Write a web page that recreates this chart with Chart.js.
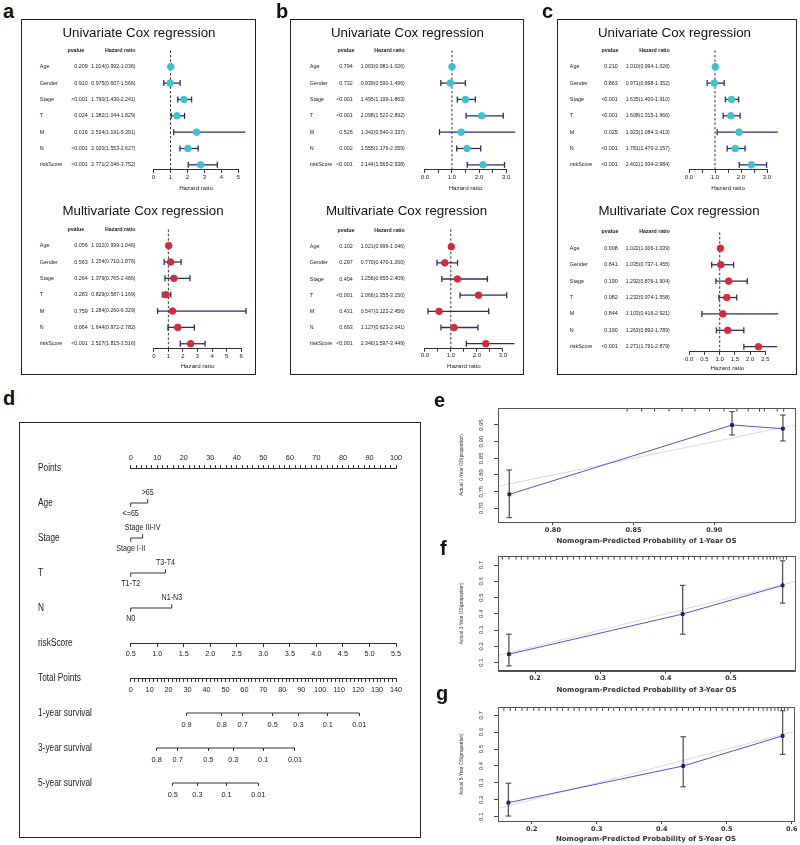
<!DOCTYPE html>
<html>
<head>
<meta charset="utf-8">
<script src="https://cdn.jsdelivr.net/npm/chart.js@4.4.1/dist/chart.umd.min.js"></script>
<style>
  body { margin: 0; width: 800px; height: 845px; position: relative; background: #fff; overflow: hidden; }
  canvas, .box, .tag { position: absolute; }
  .box { border: 1.5px solid #222; box-sizing: border-box; }
  .tag { font: bold 20px 'Liberation Sans', Arial, sans-serif; line-height: 20px; color: #111; z-index: 5; }
</style>
</head>
<body>
<div class="box" style="left:21px;top:19px;width:235px;height:356px"></div>
<div class="box" style="left:290px;top:19px;width:234px;height:356px"></div>
<div class="box" style="left:557px;top:19px;width:240px;height:356px"></div>
<div class="box" style="left:19px;top:422px;width:402px;height:416px"></div>
<div class="tag" style="left:3px;top:1px">a</div>
<div class="tag" style="left:276px;top:1px">b</div>
<div class="tag" style="left:542px;top:1px">c</div>
<div class="tag" style="left:3px;top:388px">d</div>
<div class="tag" style="left:434px;top:390px">e</div>
<div class="tag" style="left:440px;top:538px">f</div>
<div class="tag" style="left:436px;top:683px">g</div>
<script>
// ---- Cox regression tables ----
const coxVars = ['Age', 'Gender', 'Stage', 'T', 'M', 'N', 'riskScore'];

const aUniP  = ['0.209', '0.910', '<0.001', '0.024', '0.016', '<0.001', '<0.001'];
const aUniHR = [1.014, 0.975, 1.790, 1.382, 2.534, 2.020, 2.771];
const aUniLo = [0.992, 0.607, 1.430, 1.044, 1.191, 1.553, 2.046];
const aUniHi = [1.036, 1.566, 2.241, 1.829, 5.391, 2.627, 3.752];
const aMulP  = ['0.056', '0.563', '0.264', '0.283', '0.759', '0.064', '<0.001'];
const aMulHR = [1.022, 1.154, 1.379, 0.829, 1.284, 1.644, 2.527];
const aMulLo = [0.999, 0.710, 0.765, 0.587, 0.260, 0.972, 1.815];
const aMulHi = [1.046, 1.876, 2.486, 1.169, 6.329, 2.782, 3.516];

const bUniP  = ['0.794', '0.732', '<0.001', '<0.001', '0.526', '0.002', '<0.001'];
const bUniHR = [1.003, 0.939, 1.495, 2.098, 1.342, 1.555, 2.144];
const bUniLo = [0.981, 0.590, 1.199, 1.522, 0.540, 1.176, 1.565];
const bUniHi = [1.026, 1.496, 1.863, 2.892, 3.337, 2.059, 2.938];
const bMulP  = ['0.102', '0.297', '0.404', '<0.001', '0.431', '0.693', '<0.001'];
const bMulHR = [1.021, 0.770, 1.256, 2.066, 0.547, 1.127, 2.346];
const bMulLo = [0.996, 0.470, 0.655, 1.355, 0.122, 0.623, 1.597];
const bMulHi = [1.046, 1.260, 2.409, 3.150, 2.456, 2.041, 3.449];

const cUniP  = ['0.210', '0.863', '<0.001', '<0.001', '0.025', '<0.001', '<0.001'];
const cUniHR = [1.010, 0.971, 1.635, 1.608, 1.923, 1.781, 2.402];
const cUniLo = [0.994, 0.698, 1.400, 1.315, 1.084, 1.470, 1.934];
const cUniHi = [1.026, 1.352, 1.910, 1.966, 3.413, 2.157, 2.984];
const cMulP  = ['0.008', '0.841', '0.190', '0.082', '0.844', '0.190', '<0.001'];
const cMulHR = [1.022, 1.035, 1.292, 1.232, 1.103, 1.263, 2.271];
const cMulLo = [1.006, 0.737, 0.876, 0.974, 0.416, 0.892, 1.791];
const cMulHi = [1.039, 1.455, 1.904, 1.558, 2.921, 1.789, 2.879];

// ---- nomogram ----
const nomoRows = ['Points', 'Age', 'Stage', 'T', 'N', 'riskScore', 'Total Points', '1-year survival', '3-year survival', '5-year survival'];
const catLevels = [['<=65', '>65'], ['Stage I-II', 'Stage III-IV'], ['T1-T2', 'T3-T4'], ['N0', 'N1-N3']];
const catPoints = [[0, 6.4], [0, 4.5], [0, 13.1], [0, 15.5]];
const surv1Lab = ['0.9', '0.8', '0.7', '0.5', '0.3', '0.1', '0.01'];
const surv1Pts = [29.5, 48.0, 59.1, 74.9, 88.5, 104.0, 120.6];
const surv3Lab = ['0.8', '0.7', '0.5', '0.3', '0.1', '0.01'];
const surv3Pts = [13.7, 24.8, 40.9, 54.1, 69.9, 86.7];
const surv5Lab = ['0.5', '0.3', '0.1', '0.01'];
const surv5Pts = [22.2, 35.2, 50.6, 67.3];

// ---- calibration curves ----
const calEx = [0.773, 0.911, 0.9425];
const calEy = [0.742, 0.950, 0.939];
const calElo = [0.672, 0.920, 0.902];
const calEhi = [0.815, 0.990, 0.980];
const calEideal = [0.766, 0.95];
const calErug = [0.846, 0.855, 0.863, 0.872, 0.880, 0.888, 0.897, 0.906, 0.914, 0.921, 0.928, 0.931, 0.939, 0.943];
const calExTicks = [0.80, 0.85, 0.90];
const calEyTicks = [0.70, 0.75, 0.80, 0.85, 0.90, 0.95];

const calFx = [0.160, 0.426, 0.579];
const calFy = [0.152, 0.399, 0.575];
const calFlo = [0.080, 0.275, 0.466];
const calFhi = [0.275, 0.575, 0.726];
const calFideal = [0.145, 0.598];
const calFrug = [0.150, 0.160, 0.171, 0.179, 0.189, 0.198, 0.206, 0.216, 0.224, 0.233, 0.242, 0.250, 0.259, 0.268, 0.277, 0.285, 0.295, 0.303, 0.312, 0.321, 0.330, 0.338, 0.348, 0.356, 0.365, 0.374, 0.383, 0.392, 0.400, 0.409, 0.418, 0.427, 0.435, 0.444, 0.453, 0.462, 0.471, 0.479, 0.488, 0.496, 0.504, 0.512, 0.519, 0.527, 0.535, 0.542, 0.549, 0.555, 0.560, 0.565, 0.570, 0.575, 0.580, 0.585];
const calFxTicks = [0.2, 0.3, 0.4, 0.5];
const calFyTicks = [0.1, 0.2, 0.3, 0.4, 0.5, 0.6, 0.7];

const calGx = [0.164, 0.433, 0.586];
const calGy = [0.183, 0.400, 0.578];
const calGlo = [0.104, 0.277, 0.469];
const calGhi = [0.298, 0.573, 0.727];
const calGideal = [0.150, 0.603];
const calGrug = [0.157, 0.167, 0.175, 0.185, 0.193, 0.203, 0.211, 0.221, 0.229, 0.239, 0.247, 0.256, 0.265, 0.273, 0.283, 0.291, 0.300, 0.309, 0.318, 0.326, 0.335, 0.344, 0.353, 0.361, 0.371, 0.379, 0.388, 0.397, 0.405, 0.414, 0.423, 0.432, 0.441, 0.449, 0.458, 0.467, 0.475, 0.484, 0.493, 0.501, 0.510, 0.518, 0.526, 0.534, 0.541, 0.549, 0.556, 0.562, 0.568, 0.574, 0.579, 0.584, 0.589, 0.594];
const calGxTicks = [0.2, 0.3, 0.4, 0.5, 0.6];
const calGyTicks = [0.1, 0.2, 0.3, 0.4, 0.5, 0.6, 0.7];

const sans = "'Liberation Sans', Arial, sans-serif";
const wide = "'DejaVu Sans', Verdana, sans-serif";
const navy = '#2b2d6e';

Chart.defaults.font.family = sans;
Chart.defaults.color = '#222';
Chart.defaults.animation = false;
Chart.defaults.events = [];
Chart.defaults.plugins.legend.display = false;
Chart.defaults.plugins.tooltip.enabled = false;

function addCanvas(l, t, w, h) {
  const c = document.createElement('canvas');
  c.width = w; c.height = h;
  c.style.left = l + 'px'; c.style.top = t + 'px';
  c.style.width = w + 'px'; c.style.height = h + 'px';
  document.body.appendChild(c);
  return c;
}

// text squeezed sideways, like the condensed R font
function squeezed(ctx, text, x, y, align, sx) {
  ctx.save();
  ctx.translate(x, y);
  ctx.scale(sx, 1);
  ctx.textAlign = align;
  ctx.fillText(text, 0, 0);
  ctx.restore();
}

// one forest plot (table text + hazard ratios)
function forest(f) {
  const [cl, ct, cw, ch] = f.canvas;
  const rows = coxVars.map((v, i) => coxVars.length - i);
  const yMin = 0.69, yMax = 8.1, hdrRow = 8, axisH = 24;
  const ds = [];
  ds.push({ data: rows.map((r, i) => ({x: f.hr[i], y: r})), pointRadius: 3.3,
            pointBackgroundColor: f.color, pointBorderColor: f.color, clip: false });
  const caps = [];
  rows.forEach((r, i) => { caps.push({x: f.lo[i], y: r}, {x: f.hi[i], y: r}); });
  ds.push({ data: caps, pointStyle: 'line', pointRotation: 90, pointRadius: 3,
            pointBorderColor: navy, pointBorderWidth: 1.3, clip: false });
  rows.forEach((r, i) => {
    ds.push({ data: [{x: f.lo[i], y: r}, {x: f.hi[i], y: r}], showLine: true, borderColor: navy,
              borderWidth: 1.3, pointRadius: 0, clip: false });
  });
  ds.push({ data: [{x: 1, y: yMin}, {x: 1, y: yMax}], showLine: true, borderColor: '#333',
            borderWidth: 1, borderDash: [2.5, 2], pointRadius: 0, clip: false });

  const table = {
    id: 'table',
    afterDraw(chart) {
      const ctx = chart.ctx, ys = chart.scales.y;
      const [lx, pr, hr, ph] = f.cols.map(v => v - cl);
      ctx.save();
      ctx.fillStyle = '#111';
      ctx.textBaseline = 'middle';
      ctx.textAlign = 'center';
      ctx.font = '13.3px ' + sans;
      ctx.fillText(f.title, cw / 2, f.titleY - ct);
      ctx.fillStyle = '#222';
      ctx.font = 'bold 5.3px ' + sans;
      ctx.fillText('pvalue', ph, ys.getPixelForValue(hdrRow));
      ctx.textAlign = 'right';
      ctx.fillText('Hazard ratio', hr, ys.getPixelForValue(hdrRow));
      ctx.font = '5.4px ' + sans;
      rows.forEach((r, i) => {
        const py = ys.getPixelForValue(r);
        ctx.textAlign = 'left';
        ctx.fillText(coxVars[i], lx, py);
        ctx.textAlign = 'right';
        ctx.fillText(f.p[i], pr, py);
      });
      ctx.font = '5.2px ' + sans;
      rows.forEach((r, i) => {
        const py = ys.getPixelForValue(r);
        ctx.fillText(f.hr[i].toFixed(3) + '(' + f.lo[i].toFixed(3) + '-' + f.hi[i].toFixed(3) + ')', hr, py);
      });
      ctx.restore();
    }
  };

  new Chart(addCanvas(cl, ct, cw, ch), {
    type: 'scatter',
    data: { datasets: ds },
    options: {
      responsive: false,
      layout: { padding: { left: f.x0 - cl, right: cl + cw - f.x1, top: f.top - ct, bottom: ch - (f.bottom - ct) - axisH } },
      scales: {
        x: {
          type: 'linear', min: 0, max: f.max,
          afterFit: s => { s.height = axisH; },
          ticks: { stepSize: f.step, autoSkip: false, maxRotation: 0, minRotation: 0, padding: 0.5,
                   font: { size: 6 }, color: '#222',
                   callback: v => Math.abs(v / f.lab - Math.round(v / f.lab)) < 1e-6 ? v.toFixed(f.dec) : '' },
          grid: { drawOnChartArea: false, tickLength: 3, color: '#333' },
          border: { color: '#333' },
          title: { display: true, text: 'Hazard ratio', color: '#222', font: { size: 6.2 },
                   padding: { top: 0, bottom: axisH - 3.72 - (f.hrY - f.bottom) } }
        },
        y: { type: 'linear', display: false, min: yMin, max: yMax }
      }
    },
    plugins: [table]
  });
}

const cyan = '#38c4cf', red = '#d42a3c';
const colsA = [39.3, 87.3, 135, 75.3], colsB = [309.3, 352.3, 404.3, 345.5], colsC = [569.3, 617.3, 669.3, 609.5];

forest({ canvas: [22.5, 20.5, 232, 175], x0: 153, x1: 238, top: 48.3, bottom: 169.4, titleY: 33.3, hrY: 187.7,
         max: 5, step: 1, lab: 1, dec: 0, cols: colsA, title: 'Univariate Cox regression', color: cyan,
         p: aUniP, hr: aUniHR, lo: aUniLo, hi: aUniHi });
forest({ canvas: [22.5, 194, 240, 182], x0: 153.3, x1: 240.7, top: 227.7, bottom: 348.8, titleY: 211.7, hrY: 366.7,
         max: 6, step: 1, lab: 1, dec: 0, cols: colsA, title: 'Multivariate Cox regression', color: red,
         p: aMulP, hr: aMulHR, lo: aMulLo, hi: aMulHi });
forest({ canvas: [291.5, 20.5, 231, 175], x0: 424.3, x1: 505.7, top: 48.3, bottom: 169.4, titleY: 33.3, hrY: 187.7,
         max: 3, step: 0.5, lab: 1, dec: 1, cols: colsB, title: 'Univariate Cox regression', color: cyan,
         p: bUniP, hr: bUniHR, lo: bUniLo, hi: bUniHi });
forest({ canvas: [291.5, 194, 229, 182], x0: 424.3, x1: 502.3, top: 228.9, bottom: 348.7, titleY: 211, hrY: 366.7,
         max: 3, step: 0.5, lab: 1, dec: 1, cols: colsB, title: 'Multivariate Cox regression', color: red,
         p: bMulP, hr: bMulHR, lo: bMulLo, hi: bMulHi });
forest({ canvas: [557.5, 20.5, 233, 175], x0: 688.5, x1: 766.5, top: 48.3, bottom: 169.4, titleY: 33.3, hrY: 187.7,
         max: 3, step: 0.5, lab: 1, dec: 1, cols: colsC, title: 'Univariate Cox regression', color: cyan,
         p: cUniP, hr: cUniHR, lo: cUniLo, hi: cUniHi });
forest({ canvas: [557.5, 194, 242, 182], x0: 688.7, x1: 765, top: 230.3, bottom: 351.8, titleY: 211, hrY: 368.3,
         max: 2.5, step: 0.5, lab: 0.5, dec: 1, cols: colsC, title: 'Multivariate Cox regression', color: red,
         p: cMulP, hr: cMulHR, lo: cMulLo, hi: cMulHi });

// ---- nomogram (d) ----
(function () {
  const cl = 21, ct = 424, cw = 398, ch = 412;
  const x0 = 130.7, x1 = 396, top = 468, rowGap = 35, yMax = 9.5;
  const bottom = top + rowGap * yMax;
  const ds = [];
  catPoints.forEach((p, k) => {
    const r = k + 1;
    ds.push({ data: [{x: p[0], y: r + 0.11}, {x: p[0], y: r}, {x: p[1], y: r}, {x: p[1], y: r - 0.11}],
              showLine: true, borderColor: '#333', borderWidth: 1, pointRadius: 0, clip: false, xAxisID: 'x' });
  });
  [[surv1Pts, 'xS1', 7], [surv3Pts, 'xS3', 8], [surv5Pts, 'xS5', 9]].forEach(([pts, id, r]) => {
    ds.push({ data: [{x: pts[0], y: r}, {x: pts[pts.length - 1], y: r}], showLine: true, borderColor: '#333',
              borderWidth: 1, pointRadius: 0, clip: false, xAxisID: id });
  });

  const tickFont = { family: sans, size: 7.3 };
  const grid = { drawOnChartArea: false, tickLength: 3, color: '#333' };
  const tens = v => (Math.abs(v % 10) < 1e-6 ? String(v) : '');
  const survAxis = (r, pts, lab) => ({
    type: 'linear', axis: 'x', position: { y: r }, min: 0, max: 140,
    afterBuildTicks: s => { s.ticks = pts.map(v => ({ value: v })); },
    ticks: { autoSkip: false, maxRotation: 0, minRotation: 0, padding: 4.5, font: tickFont, color: '#222',
             callback: (v, i) => lab[i] },
    grid: grid, border: { display: false }
  });

  const labels = {
    id: 'nomoLabels',
    afterDraw(chart) {
      const ctx = chart.ctx, ys = chart.scales.y, xs = chart.scales.x;
      ctx.save();
      ctx.fillStyle = '#222';
      ctx.textBaseline = 'middle';
      ctx.font = '10px ' + sans;
      nomoRows.forEach((r, i) => squeezed(ctx, r, 38 - cl, ys.getPixelForValue(i), 'left', 0.83));
      ctx.font = '8.6px ' + sans;
      catLevels.forEach((lv, k) => {
        const py = ys.getPixelForValue(k + 1);
        squeezed(ctx, lv[0], xs.getPixelForValue(catPoints[k][0]), py + 11, 'center', 0.83);
        squeezed(ctx, lv[1], xs.getPixelForValue(catPoints[k][1]), py - 10.5, 'center', 0.83);
      });
      ctx.restore();
    }
  };

  new Chart(addCanvas(cl, ct, cw, ch), {
    type: 'scatter',
    data: { datasets: ds },
    options: {
      responsive: false,
      layout: { padding: { left: x0 - cl, right: cl + cw - x1, top: top - ct - 16, bottom: ct + ch - bottom } },
      scales: {
        x: { type: 'linear', position: 'top', min: 0, max: 100, afterFit: s => { s.height = 16; },
             ticks: { stepSize: 2, maxTicksLimit: 200, autoSkip: false, maxRotation: 0, minRotation: 0, padding: 2.5,
                      font: tickFont, color: '#222', callback: tens },
             grid: grid, border: { color: '#333' } },
        xRisk: { type: 'linear', axis: 'x', position: { y: 5 }, min: 0.5, max: 5.5,
                 ticks: { stepSize: 0.5, autoSkip: false, maxRotation: 0, minRotation: 0, padding: 4,
                          font: tickFont, color: '#222' },
                 grid: grid, border: { color: '#333' } },
        xTot: { type: 'linear', axis: 'x', position: { y: 6 }, min: 0, max: 140,
                ticks: { stepSize: 2, maxTicksLimit: 200, autoSkip: false, maxRotation: 0, minRotation: 0, padding: 4.5,
                         font: tickFont, color: '#222', callback: tens },
                grid: grid, border: { color: '#333' } },
        xS1: survAxis(7, surv1Pts, surv1Lab),
        xS3: survAxis(8, surv3Pts, surv3Lab),
        xS5: survAxis(9, surv5Pts, surv5Lab),
        y: { type: 'linear', display: false, min: 0, max: yMax, reverse: true }
      }
    },
    plugins: [labels]
  });
})();

// ---- calibration plots (e, f, g) ----
function calib(c) {
  const [cl, ct, cw, ch] = c.canvas;
  const yW = 40, xH = 24;
  const ds = [];
  ds.push({ data: c.px.map((v, i) => ({x: v, y: c.py[i]})), showLine: true, borderColor: '#5252d8', borderWidth: 1,
            pointStyle: 'rect', pointRadius: 2, pointBackgroundColor: '#1d1d78', pointBorderColor: '#1d1d78', clip: false });
  const caps = [];
  c.px.forEach((v, i) => caps.push({x: v, y: c.lo[i]}, {x: v, y: c.hi[i]}));
  ds.push({ data: caps, pointStyle: 'line', pointRadius: 2.8, pointBorderColor: '#555', pointBorderWidth: 1.2, clip: false });
  c.px.forEach((v, i) => {
    ds.push({ data: [{x: v, y: c.lo[i]}, {x: v, y: c.hi[i]}], showLine: true, borderColor: '#555',
              borderWidth: 1.3, pointRadius: 0, clip: false });
  });
  ds.push({ data: c.ideal.map(v => ({x: v, y: v})), showLine: true, borderColor: '#d9d9ea', borderWidth: 1, pointRadius: 0 });
  const rugY = c.y[1] - (c.y[1] - c.y[0]) * 0.016;
  ds.push({ data: c.rug.map(v => ({x: v, y: rugY})), pointStyle: 'line', pointRotation: 90, pointRadius: 1.8,
            pointBorderColor: '#333', pointBorderWidth: 0.9, clip: false });

  const extras = {
    id: 'calExtras',
    afterDraw(chart) {
      const ctx = chart.ctx, a = chart.chartArea, ys = chart.scales.y;
      ctx.save();
      ctx.strokeStyle = '#555';
      ctx.lineWidth = 1;
      ctx.strokeRect(Math.round(a.left) + 0.5, Math.round(a.top) + 0.5, Math.round(a.width), Math.round(a.height));
      ctx.fillStyle = '#333';
      ctx.font = '6px ' + sans;
      ctx.textAlign = 'center';
      ctx.textBaseline = 'middle';
      ys.ticks.forEach(t => {
        ctx.save();
        ctx.translate(a.left - 16.3, ys.getPixelForValue(t.value));
        ctx.rotate(-Math.PI / 2);
        ctx.fillText(t.value.toFixed(c.dec), 0, 0);
        ctx.restore();
      });
      ctx.restore();
    }
  };

  new Chart(addCanvas(cl, ct, cw, ch), {
    type: 'scatter',
    data: { datasets: ds },
    options: {
      responsive: false,
      layout: { padding: { left: c.x0 - cl - yW, right: cl + cw - c.x1, top: c.top - ct, bottom: ct + ch - c.bottom - xH } },
      scales: {
        x: { type: 'linear', min: c.x[0], max: c.x[1],
             afterBuildTicks: s => { s.ticks = c.xTicks.map(v => ({ value: v })); },
             afterFit: s => { s.height = xH; },
             ticks: { autoSkip: false, maxRotation: 0, minRotation: 0, padding: 1.1, color: '#333',
                      font: { family: wide, size: 6.5, weight: 'bold' }, callback: v => v.toFixed(c.dec) },
             grid: { drawOnChartArea: false, tickLength: 3, color: '#444' },
             border: { color: '#444' },
             title: { display: true, text: c.xTitle, color: '#333', font: { family: wide, size: 7, weight: 'bold' },
                      padding: { top: 0, bottom: Math.max(0, xH - 4.2 - (c.xTitleY - c.bottom)) } } },
        y: { type: 'linear', min: c.y[0], max: c.y[1],
             afterBuildTicks: s => { s.ticks = c.yTicks.map(v => ({ value: v })); },
             afterFit: s => { s.width = yW; },
             ticks: { display: false },
             grid: { drawOnChartArea: false, tickLength: 4, color: '#444' },
             border: { color: '#444' },
             title: { display: true, text: c.yTitle, color: '#333', font: { family: sans, size: 4.8 },
                      padding: { top: 1, bottom: 0 } } }
      }
    },
    plugins: [extras]
  });
}

calib({ canvas: [440, 400, 365, 148], x0: 498, x1: 795, top: 408, bottom: 522, xTitleY: 540.7,
        x: [0.766, 0.95], y: [0.659, 1.001], xTicks: calExTicks, yTicks: calEyTicks, dec: 2,
        px: calEx, py: calEy, lo: calElo, hi: calEhi, ideal: calEideal, rug: calErug,
        xTitle: 'Nomogram-Predicted Probability of 1-Year OS', yTitle: 'Actual 1-Year OS(proportion)' });
calib({ canvas: [440, 548, 365, 148], x0: 498, x1: 795, top: 556, bottom: 670.7, xTitleY: 690.7,
        x: [0.1433, 0.598], y: [0.0506, 0.7556], xTicks: calFxTicks, yTicks: calFyTicks, dec: 1,
        px: calFx, py: calFy, lo: calFlo, hi: calFhi, ideal: calFideal, rug: calFrug,
        xTitle: 'Nomogram-Predicted Probability of 3-Year OS', yTitle: 'Actual 3-Year OS(proportion)' });
calib({ canvas: [440, 699, 365, 146], x0: 498, x1: 794, top: 707.3, bottom: 821, xTitleY: 839.5,
        x: [0.148, 0.6035], y: [0.0746, 0.747], xTicks: calGxTicks, yTicks: calGyTicks, dec: 1,
        px: calGx, py: calGy, lo: calGlo, hi: calGhi, ideal: calGideal, rug: calGrug,
        xTitle: 'Nomogram-Predicted Probability of 5-Year OS', yTitle: 'Actual 5-Year OS(proportion)' });
</script>
</body>
</html>
